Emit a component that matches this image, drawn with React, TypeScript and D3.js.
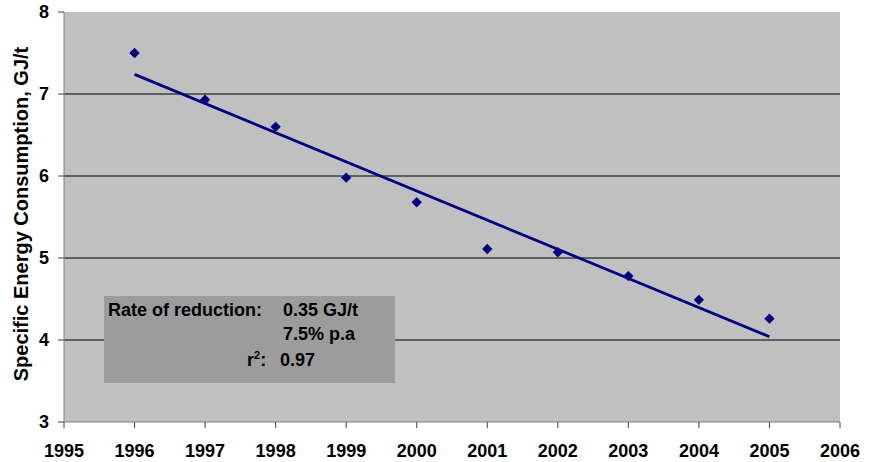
import * as d3 from "d3"

const years = [1996, 1997, 1998, 1999, 2000, 2001, 2002, 2003, 2004, 2005]
const consumption = [7.5, 6.93, 6.6, 5.98, 5.68, 5.11, 5.07, 4.78, 4.49, 4.26]
const xTicks = [1995, 1996, 1997, 1998, 1999, 2000, 2001, 2002, 2003, 2004, 2005, 2006]
const yTicks = [3, 4, 5, 6, 7, 8]

const W = 876
const H = 462
const margin = { left: 64, right: 36, top: 12, bottom: 40 }
const font = "'Liberation Sans', Arial, sans-serif"

export default function App() {
  const x = d3.scaleLinear().domain([1995, 2006]).range([margin.left, W - margin.right])
  const y = d3.scaleLinear().domain([3, 8]).range([H - margin.bottom, margin.top])

  // least squares trend line
  const mx = d3.mean(years) as number
  const my = d3.mean(consumption) as number
  const sxy = d3.sum(years, (v, i) => (v - mx) * (consumption[i] - my))
  const sxx = d3.sum(years, (v) => (v - mx) ** 2)
  const slope = sxy / sxx
  const fit = (v: number) => my + slope * (v - mx)
  const x0 = years[0]
  const x1 = years[years.length - 1]

  const diamond = d3.symbol().type(d3.symbolDiamond2).size(68)()

  return (
    <svg width={W} height={H} style={{ position: "absolute", left: 0, top: 0, background: "#fff" }} fontFamily={font}>
      <rect x={x(1995)} y={y(8)} width={x(2006) - x(1995)} height={y(3) - y(8)} fill="#c0c0c0" />
      {yTicks.filter((t) => t > 3 && t < 8).map((t) => (
        <line key={t} x1={x(1995)} x2={x(2006)} y1={y(t)} y2={y(t)} stroke="#000" strokeWidth={1} />
      ))}
      {/* axes */}
      <line x1={x(1995)} x2={x(1995)} y1={y(8)} y2={y(3)} stroke="#808080" strokeWidth={1} />
      <line x1={x(1995)} x2={x(2006)} y1={y(3)} y2={y(3)} stroke="#808080" strokeWidth={1} />
      {yTicks.map((t) => (
        <g key={t}>
          <line x1={x(1995) - 6} x2={x(1995)} y1={y(t)} y2={y(t)} stroke="#404040" />
          <text x={x(1995) - 15} y={y(t)} dy="0.35em" textAnchor="end" fontSize={18} fontWeight="bold">{t}</text>
        </g>
      ))}
      {xTicks.map((t) => (
        <g key={t}>
          <line x1={x(t)} x2={x(t)} y1={y(3)} y2={y(3) + 6} stroke="#404040" />
          <text x={x(t)} y={457} textAnchor="middle" fontSize={18} fontWeight="bold">{t}</text>
        </g>
      ))}
      <text transform={`translate(28,${(y(8) + y(3)) / 2 - 3}) rotate(-90)`} textAnchor="middle" fontSize={20} fontWeight="bold">
        Specific Energy Consumption, GJ/t
      </text>
      {/* trend line */}
      <line x1={x(x0)} y1={y(fit(x0))} x2={x(x1)} y2={y(fit(x1))} stroke="#000080" strokeWidth={2.75} />
      {years.map((yr, i) => (
        <path key={yr} d={diamond as string} transform={`translate(${x(yr)},${y(consumption[i])})`} fill="#000080" />
      ))}
      {/* annotation box */}
      <rect x={104} y={296} width={291} height={87} fill="#9c9c9c" />
      <g fontSize={18} fontWeight="bold" fill="#000">
        <text x={108} y={316}>Rate of reduction:</text>
        <text x={283} y={316}>0.35 GJ/t</text>
        <text x={283} y={340}>7.5% p.a</text>
        <text x={247} y={366}>r<tspan dy={-7} fontSize={11}>2</tspan><tspan dy={7}>:</tspan></text>
        <text x={280} y={366}>0.97</text>
      </g>
    </svg>
  )
}
